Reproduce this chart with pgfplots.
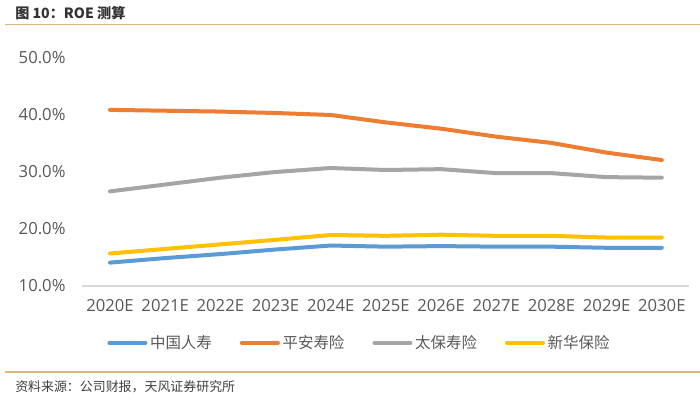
\documentclass[border=0pt]{standalone}
\usepackage{pgfplots}
\pgfplotsset{compat=1.18}
\usepackage{fontspec}
\setmainfont{Open Sans}
\newfontfamily\cjk{Noto Sans CJK SC}
\definecolor{cblue}{HTML}{5B9BD5}
\definecolor{corange}{HTML}{ED7D31}
\definecolor{cgray}{HTML}{A5A5A5}
\definecolor{cyellow}{HTML}{FFC000}
\definecolor{txt}{HTML}{595959}
\definecolor{tan}{HTML}{D9B77E}
\begin{document}
\begin{tikzpicture}
\begin{scope}[x=0.75pt,y=0.75pt]
\useasboundingbox (0,0) rectangle (700,403);
\fill[white] (0,0) rectangle (700,403);
\node[anchor=base west,inner sep=0pt,text=black!80] at (15,384) {\cjk\fontsize{10.6pt}{12pt}\selectfont\bfseries 图 10：ROE 测算};
\draw[tan,line width=0.9pt] (5,378.5) -- (700,378.5);
\draw[tan,line width=0.9pt] (5,31) -- (700,31);
\node[anchor=base west,inner sep=0pt,text=black!75] at (15,11) {\cjk\fontsize{9.7pt}{11pt}\selectfont 资料来源：公司财报，天风证券研究所};
\end{scope}
\begin{axis}[
  at={(61.8pt,87.75pt)}, anchor=south west,
  scale only axis, width=455.25pt, height=171pt,
  xmin=-0.5, xmax=10.5, ymin=10, ymax=50,
  axis x line*=bottom, axis y line*=left,
  x axis line style={-, draw=black!15, line width=0.8pt},
  y axis line style={-, draw=none},
  major tick length=0pt,
  xtick={0,...,10},
  xticklabels={2020E,2021E,2022E,2023E,2024E,2025E,2026E,2027E,2028E,2029E,2030E},
  ytick={10,20,30,40,50},
  yticklabels={10.0\%,20.0\%,30.0\%,40.0\%,50.0\%},
  ticklabel style={text=txt, font=\fontsize{12.5pt}{14pt}\selectfont},
  yticklabel style={anchor=east, inner sep=0pt, xshift=-12.5pt},
  xticklabel style={anchor=north, inner sep=0pt, yshift=-10pt},
  legend columns=4,
  legend style={at={(0.457,-0.25)}, anchor=center, draw=none, fill=none,
    font=\cjk\fontsize{11.6pt}{13pt}\selectfont, text=txt,
    /tikz/every even column/.append style={column sep=19pt}},
  legend image code/.code={\draw[#1, line width=3pt] (0pt,0pt) -- (27pt,0pt);},
  every axis plot/.append style={line width=3pt, line join=round, line cap=round},
  clip=false,
]
\addplot[cblue] coordinates {(0,14.1) (1,14.9) (2,15.6) (3,16.4) (4,17.1) (5,16.9) (6,17.0) (7,16.9) (8,16.9) (9,16.7) (10,16.7)};
\addlegendentry{中国人寿}
\addplot[corange] coordinates {(0,40.9) (1,40.75) (2,40.6) (3,40.35) (4,40.0) (5,38.7) (6,37.6) (7,36.2) (8,35.1) (9,33.4) (10,32.1)};
\addlegendentry{平安寿险}
\addplot[cgray] coordinates {(0,26.6) (1,27.8) (2,29.0) (3,30.0) (4,30.7) (5,30.35) (6,30.5) (7,29.8) (8,29.8) (9,29.1) (10,29.0)};
\addlegendentry{太保寿险}
\addplot[cyellow] coordinates {(0,15.7) (1,16.5) (2,17.3) (3,18.1) (4,18.95) (5,18.8) (6,19.0) (7,18.8) (8,18.8) (9,18.5) (10,18.5)};
\addlegendentry{新华保险}
\end{axis}
\end{tikzpicture}
\end{document}
